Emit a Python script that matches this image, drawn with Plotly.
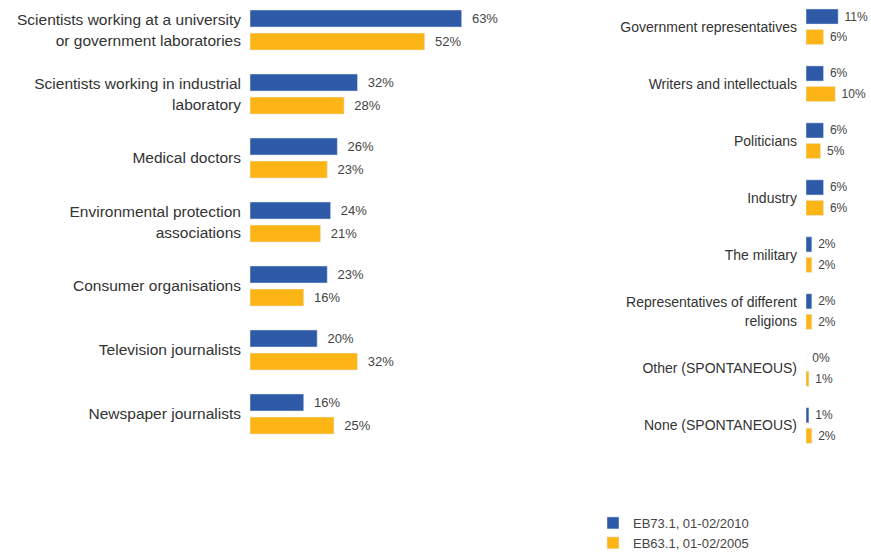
import plotly.graph_objects as go

W, H = 871, 559

left_cats = [
    "Scientists working at a university<br>or government laboratories",
    "Scientists working in industrial<br>laboratory",
    "Medical doctors",
    "Environmental protection<br>associations",
    "Consumer organisations",
    "Television journalists",
    "Newspaper journalists",
]
left_2010 = [63, 32, 26, 24, 23, 20, 16]
left_2005 = [52, 28, 23, 21, 16, 32, 25]

right_cats = [
    "Government representatives",
    "Writers and intellectuals",
    "Politicians",
    "Industry",
    "The military",
    "Representatives of different<br>religions",
    "Other (SPONTANEOUS)",
    "None (SPONTANEOUS)",
]
right_2010 = [11, 6, 6, 6, 2, 2, 0, 1]
right_2005 = [6, 10, 5, 6, 2, 2, 1, 2]

series_names = ["EB73.1, 01-02/2010", "EB63.1, 01-02/2005"]
BLUE = "#2E5AA8"
ORANGE = "#FDB515"
FONT = "Liberation Sans, Arial, sans-serif"

fig = go.Figure()

for vals, name, col in [(left_2010, series_names[0], BLUE), (left_2005, series_names[1], ORANGE)]:
    fig.add_trace(go.Bar(
        y=left_cats, x=vals, orientation="h", name=name, marker_color=col,
        text=[f"{v}%" for v in vals], texttemplate="\u00a0\u00a0%{text}",
        textposition="outside", cliponaxis=False,
        textfont=dict(size=13, color="#444444", family=FONT),
        xaxis="x", yaxis="y", showlegend=True,
    ))

for vals, name, col in [(right_2010, series_names[0], BLUE), (right_2005, series_names[1], ORANGE)]:
    fig.add_trace(go.Bar(
        y=right_cats, x=vals, orientation="h", name=name, marker_color=col,
        text=[f"{v}%" for v in vals], texttemplate="\u00a0%{text}",
        textposition="outside", cliponaxis=False,
        textfont=dict(size=12, color="#444444", family=FONT),
        xaxis="x2", yaxis="y2", showlegend=False,
    ))

def px_x(p):
    return p / W

def px_y(p):
    return 1 - p / H

fig.update_layout(
    width=W, height=H,
    margin=dict(l=0, r=0, t=0, b=0),
    paper_bgcolor="white", plot_bgcolor="white",
    font=dict(family=FONT, color="#333333"),
    barmode="group", bargap=0.28, bargroupgap=0.26,
    xaxis=dict(domain=[px_x(250), px_x(586)], range=[0, 100], visible=False, fixedrange=True),
    yaxis=dict(domain=[px_y(446), px_y(0)], range=[6.5, -0.47], type="category",
               showgrid=False, zeroline=False, showline=False, ticks="",
               ticklabelstandoff=8, tickfont=dict(size=15.5, color="#333333")),
    xaxis2=dict(domain=[px_x(806), px_x(866)], range=[0, 20.5], visible=False, fixedrange=True),
    yaxis2=dict(domain=[px_y(454), px_y(0)], range=[7.5, -0.47], type="category",
                anchor="x2", showgrid=False, zeroline=False, showline=False, ticks="",
                ticklabelstandoff=8, tickfont=dict(size=14, color="#333333")),
    legend=dict(x=px_x(593), y=px_y(508), xanchor="left", yanchor="top",
                font=dict(size=13, color="#444444"), traceorder="normal",
                bgcolor="rgba(0,0,0,0)", itemwidth=30),
)

fig.write_html("out.html")
